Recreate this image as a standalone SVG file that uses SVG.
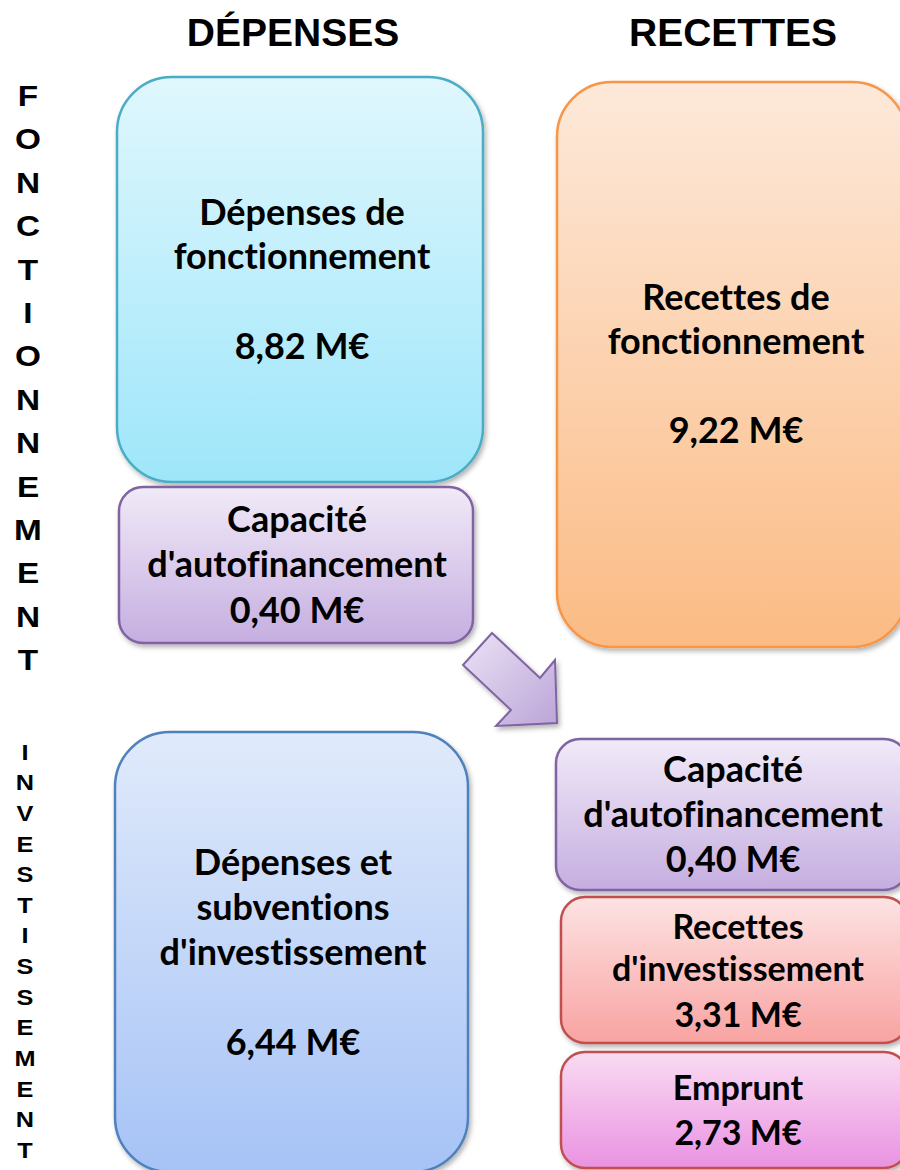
<svg xmlns="http://www.w3.org/2000/svg" width="900" height="1170" viewBox="0 0 900 1170">
<defs>
<linearGradient id="gCyan" x1="0" y1="0" x2="0" y2="1"><stop offset="0" stop-color="#e0f7fd"/><stop offset="1" stop-color="#9ee6fa"/></linearGradient>
<linearGradient id="gPurple" x1="0" y1="0" x2="0" y2="1"><stop offset="0" stop-color="#f1eaf8"/><stop offset="1" stop-color="#c5aee0"/></linearGradient>
<linearGradient id="gOrange" x1="0" y1="0" x2="0" y2="1"><stop offset="0" stop-color="#fde9da"/><stop offset="1" stop-color="#fbbb84"/></linearGradient>
<linearGradient id="gBlue" x1="0" y1="0" x2="0" y2="1"><stop offset="0" stop-color="#e0eafb"/><stop offset="1" stop-color="#a6c3f6"/></linearGradient>
<linearGradient id="gRed" x1="0" y1="0" x2="0" y2="1"><stop offset="0" stop-color="#fde3e3"/><stop offset="1" stop-color="#f8a3a1"/></linearGradient>
<linearGradient id="gPink" x1="0" y1="0" x2="0" y2="1"><stop offset="0" stop-color="#f9dbf2"/><stop offset="1" stop-color="#ea92e2"/></linearGradient>
<linearGradient id="gArrow" x1="0" y1="0" x2="1" y2="1"><stop offset="0" stop-color="#ebe2f5"/><stop offset="1" stop-color="#bba5d8"/></linearGradient>
<filter id="sh" x="-10%" y="-10%" width="120%" height="120%"><feDropShadow dx="2" dy="3" stdDeviation="2.5" flood-color="#000" flood-opacity="0.3"/></filter>
</defs>
<style>
.hd{font-family:"Liberation Sans",Arial,sans-serif;font-weight:bold;font-size:39px;fill:#000;text-anchor:middle}
.vl{font-family:"Liberation Sans",Arial,sans-serif;font-weight:bold;font-size:29px;fill:#000;text-anchor:middle}
.vs{font-family:"Liberation Sans",Arial,sans-serif;font-weight:bold;font-size:22px;fill:#000;text-anchor:middle}
.bt{font-family:Lato,"Open Sans",sans-serif;font-weight:bold;font-size:36px;fill:#000;text-anchor:middle;font-variant-ligatures:none;font-feature-settings:"liga" 0,"clig" 0}
.sm{font-size:34px}
.box{stroke-width:2.5;filter:url(#sh)}
</style>
<rect width="900" height="1170" fill="#fff"/>
<g id="headers">
<text class="hd" x="293" y="46">DÉPENSES</text>
<text class="hd" x="733" y="46">RECETTES</text>
</g>
<g id="label-fonctionnement" transform="translate(28,0) scale(1.15,1) translate(-28,0)">
<text class="vl" x="28" y="106">F</text>
<text class="vl" x="28" y="149">O</text>
<text class="vl" x="28" y="193">N</text>
<text class="vl" x="28" y="236">C</text>
<text class="vl" x="28" y="280">T</text>
<text class="vl" x="28" y="323">I</text>
<text class="vl" x="28" y="366">O</text>
<text class="vl" x="28" y="410">N</text>
<text class="vl" x="28" y="453">N</text>
<text class="vl" x="28" y="497">E</text>
<text class="vl" x="28" y="540">M</text>
<text class="vl" x="28" y="583">E</text>
<text class="vl" x="28" y="627">N</text>
<text class="vl" x="28" y="670">T</text>
</g>
<g id="label-investissement" transform="translate(25,0) scale(1.15,1) translate(-25,0)">
<text class="vs" x="25" y="760">I</text>
<text class="vs" x="25" y="790">N</text>
<text class="vs" x="25" y="821">V</text>
<text class="vs" x="25" y="852">E</text>
<text class="vs" x="25" y="882">S</text>
<text class="vs" x="25" y="913">T</text>
<text class="vs" x="25" y="943">I</text>
<text class="vs" x="25" y="974">S</text>
<text class="vs" x="25" y="1005">S</text>
<text class="vs" x="25" y="1035">E</text>
<text class="vs" x="25" y="1066">M</text>
<text class="vs" x="25" y="1097">E</text>
<text class="vs" x="25" y="1127">N</text>
<text class="vs" x="25" y="1158">T</text>
</g>
<g id="connectors">
<polygon points="492,633 540,678 555,660 557,723 496,726 511,710 463,665" fill="url(#gArrow)" stroke="#8064a2" stroke-width="2" filter="url(#sh)"/>
</g>
<g id="depenses-fonctionnement">
<rect class="box" x="117" y="77" width="366" height="405" rx="55" fill="url(#gCyan)" stroke="#4bacc6"/>
<text class="bt" x="302" y="225">Dépenses de</text>
<text class="bt" x="302" y="269">fonctionnement</text>
<text class="bt" x="302" y="359">8,82 M€</text>
</g>
<g id="caf-depenses">
<rect class="box" x="119" y="487" width="354" height="156" rx="24" fill="url(#gPurple)" stroke="#8064a2"/>
<text class="bt" x="297" y="532">Capacité</text>
<text class="bt" x="297" y="577">d'autofinancement</text>
<text class="bt" x="297" y="623">0,40 M€</text>
</g>
<g id="recettes-fonctionnement">
<rect class="box" x="557" y="82" width="350" height="565" rx="55" fill="url(#gOrange)" stroke="#f79646"/>
<text class="bt" x="736" y="310">Recettes de</text>
<text class="bt" x="736" y="354">fonctionnement</text>
<text class="bt" x="736" y="443">9,22 M€</text>
</g>
<g id="depenses-investissement">
<rect class="box" x="115" y="732" width="353" height="440" rx="55" fill="url(#gBlue)" stroke="#4f81bd"/>
<text class="bt" x="293" y="875">Dépenses et</text>
<text class="bt" x="293" y="920">subventions</text>
<text class="bt" x="293" y="965">d'investissement</text>
<text class="bt" x="293" y="1055">6,44 M€</text>
</g>
<g id="caf-recettes">
<rect class="box" x="556" y="739" width="352" height="151" rx="24" fill="url(#gPurple)" stroke="#8064a2"/>
<text class="bt" x="733" y="782">Capacité</text>
<text class="bt" x="733" y="827">d'autofinancement</text>
<text class="bt" x="733" y="872">0,40 M€</text>
</g>
<g id="recettes-investissement">
<rect class="box" x="561" y="897" width="347" height="146" rx="24" fill="url(#gRed)" stroke="#c0504d"/>
<text class="bt sm" x="738" y="939">Recettes</text>
<text class="bt sm" x="738" y="981">d'investissement</text>
<text class="bt sm" x="738" y="1027">3,31 M€</text>
</g>
<g id="emprunt">
<rect class="box" x="561" y="1052" width="347" height="116" rx="24" fill="url(#gPink)" stroke="#c0504d"/>
<text class="bt sm" x="738" y="1100">Emprunt</text>
<text class="bt sm" x="738" y="1145">2,73 M€</text>
</g>
</svg>
